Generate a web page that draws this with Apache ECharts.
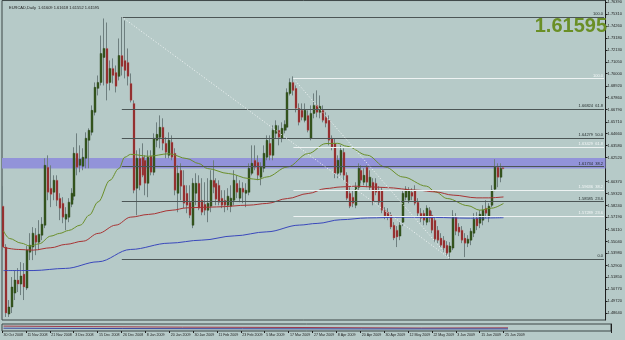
<!DOCTYPE html>
<html><head><meta charset="utf-8">
<script src="https://cdn.jsdelivr.net/npm/echarts@6/dist/echarts.min.js"></script>
<style>html,body{margin:0;padding:0;background:#b6cac8}#c{width:625px;height:340px}</style>
</head><body><div id="c"></div>
<script>
// ---- trading days (category axis) ----
const months = [
  ["Oct 2008",[30,31]],
  ["Nov 2008",[3,4,5,6,7,10,11,12,13,14,17,18,19,20,21,24,25,26,27,28]],
  ["Dec 2008",[1,2,3,4,5,8,9,10,11,12,15,16,17,18,19,22,23,24,26,29,30,31]],
  ["Jan 2009",[2,5,6,7,8,9,12,13,14,15,16,19,20,21,22,23,26,27,28,29,30]],
  ["Feb 2009",[2,3,4,5,6,9,10,11,12,13,16,17,18,19,20,23,24,25,26,27]],
  ["Mar 2009",[2,3,4,5,6,9,10,11,12,13,16,17,18,19,20,23,24,25,26,27,30,31]],
  ["Apr 2009",[1,2,3,6,7,8,9,10,13,14,15,16,17,20,21,22,23,24,27,28,29,30]],
  ["May 2009",[1,4,5,6,7,8,11,12,13,14,15,18,19,20,21,22,25,26,27,28,29]],
  ["Jun 2009",[1,2,3,4,5,8,9,10,11,12,15,16,17,18,19,22,23,24,25,26]]
];
const emptySlots = 34;

// ---- EURCAD daily OHLC ----
const opens = [1.5819,1.5454,1.4857,1.4920,1.5044,1.5160,1.5124,1.5213,1.5089,1.5409,
1.5454,1.5560,1.5498,1.5560,1.5649,1.6166,1.5979,1.5943,1.6050,1.5890,
1.5845,1.5703,1.5721,1.5836,1.5908,1.6290,1.6183,1.6175,1.6246,1.6406,
1.6477,1.6655,1.6869,1.6922,1.7145,1.7225,1.6922,1.7047,1.7011,1.6976,
1.7162,1.7118,1.7100,1.6913,1.6735,1.5979,1.6246,1.6255,1.6228,1.6023,
1.6264,1.6121,1.6406,1.6433,1.6522,1.6379,1.6272,1.6388,1.6290,1.5934,
1.6139,1.6005,1.5934,1.5854,1.5649,1.5934,1.6023,1.5872,1.5836,1.5783,
1.5819,1.6050,1.6023,1.6005,1.5890,1.5872,1.5827,1.5819,1.5872,1.6023,
1.5890,1.5979,1.5934,1.5943,1.6112,1.6228,1.6210,1.6077,1.6157,1.6255,
1.6379,1.6272,1.6468,1.6495,1.6424,1.6495,1.6522,1.6824,1.6922,1.6869,
1.6691,1.6673,1.6584,1.6628,1.6424,1.6646,1.6717,1.6655,1.6673,1.6611,
1.6584,1.6424,1.6379,1.6112,1.6121,1.6299,1.6094,1.5934,1.5899,1.5827,
1.5988,1.6139,1.6032,1.6166,1.5988,1.6032,1.6023,1.5961,1.5961,1.5783,
1.5765,1.5738,1.5649,1.5605,1.5552,1.5676,1.5899,1.5872,1.5943,1.5961,
1.5854,1.5756,1.5756,1.5676,1.5783,1.5738,1.5694,1.5605,1.5534,1.5516,
1.5471,1.5409,1.5445,1.5721,1.5632,1.5605,1.5534,1.5489,1.5516,1.5578,
1.5712,1.5667,1.5694,1.5801,1.5721,1.5827,1.5970,1.6166,1.6077,1.61609];
const highs = [1.5997,1.5480,1.4982,1.5187,1.5249,1.5267,1.5320,1.5311,1.5463,1.5578,
1.5632,1.5623,1.5694,1.5721,1.6246,1.6272,1.6183,1.6094,1.6094,1.5934,
1.5899,1.5810,1.5890,1.5979,1.6344,1.6468,1.6361,1.6335,1.6477,1.6513,
1.6717,1.6922,1.6984,1.7340,1.7492,1.7456,1.7118,1.7136,1.7073,1.7314,
1.7506,1.7474,1.7225,1.7002,1.6762,1.6317,1.6335,1.6379,1.6272,1.6317,
1.6317,1.6468,1.6566,1.6628,1.6602,1.6433,1.6477,1.6450,1.6335,1.6183,
1.6201,1.6139,1.6005,1.6005,1.6068,1.6112,1.6094,1.6068,1.6032,1.6068,
1.6139,1.6228,1.6068,1.6050,1.5961,1.5961,1.5979,1.6005,1.6139,1.6094,
1.6050,1.6032,1.6023,1.6201,1.6361,1.6361,1.6272,1.6210,1.6361,1.6450,
1.6450,1.6539,1.6584,1.6539,1.6566,1.6584,1.6869,1.6958,1.6976,1.6895,
1.6735,1.6735,1.6735,1.6673,1.6717,1.6824,1.6851,1.6806,1.6717,1.6655,
1.6628,1.6450,1.6424,1.6272,1.6361,1.6335,1.6121,1.5988,1.5961,1.6032,
1.6201,1.6183,1.6157,1.6183,1.6139,1.6068,1.6068,1.5997,1.5988,1.5810,
1.5801,1.5765,1.5676,1.5641,1.5676,1.5961,1.5997,1.5988,1.5979,1.6005,
1.5890,1.5801,1.5783,1.5827,1.5810,1.5774,1.5712,1.5641,1.5578,1.5552,
1.5507,1.5498,1.5783,1.5756,1.5667,1.5641,1.5578,1.5560,1.5623,1.5756,
1.5765,1.5783,1.5827,1.5872,1.5845,1.6005,1.6237,1.6201,1.6201,1.61618];
const lows = [1.5427,1.4831,1.4831,1.4866,1.4982,1.5053,1.5026,1.4982,1.5071,1.5338,
1.5338,1.5382,1.5427,1.5516,1.5623,1.5872,1.5810,1.5872,1.5819,1.5694,
1.5667,1.5605,1.5676,1.5810,1.5872,1.6094,1.6121,1.6139,1.6157,1.6157,
1.6450,1.6628,1.6806,1.6895,1.6895,1.6762,1.6851,1.6913,1.6833,1.6940,
1.6984,1.6958,1.6895,1.6744,1.5934,1.5738,1.5961,1.6077,1.5916,1.5899,
1.6094,1.6094,1.6344,1.6335,1.6317,1.6246,1.6246,1.6228,1.5916,1.5765,
1.5872,1.5801,1.5756,1.5712,1.5623,1.5827,1.5783,1.5738,1.5738,1.5676,
1.5765,1.5934,1.5827,1.5827,1.5801,1.5765,1.5783,1.5765,1.5827,1.5890,
1.5854,1.5845,1.5810,1.5916,1.6094,1.6139,1.6050,1.6005,1.6121,1.6228,
1.6228,1.6228,1.6424,1.6361,1.6388,1.6468,1.6495,1.6806,1.6806,1.6655,
1.6539,1.6584,1.6566,1.6477,1.6406,1.6602,1.6611,1.6602,1.6566,1.6522,
1.6361,1.6317,1.6068,1.6068,1.6094,1.6050,1.5872,1.5801,1.5810,1.5801,
1.5961,1.6023,1.6005,1.5988,1.5961,1.5827,1.5916,1.5827,1.5756,1.5703,
1.5694,1.5614,1.5516,1.5454,1.5516,1.5641,1.5872,1.5845,1.5872,1.5827,
1.5730,1.5676,1.5649,1.5649,1.5676,1.5578,1.5498,1.5489,1.5454,1.5409,
1.5374,1.5350,1.5427,1.5560,1.5552,1.5489,1.5365,1.5454,1.5471,1.5543,
1.5605,1.5623,1.5649,1.5712,1.5676,1.5810,1.5952,1.5988,1.6032,1.61552];
const closes = [1.5454,1.4866,1.4920,1.5098,1.5160,1.5124,1.5196,1.5098,1.5427,1.5471,
1.5578,1.5498,1.5569,1.5658,1.6183,1.5943,1.5925,1.6050,1.5872,1.5801,
1.5721,1.5747,1.5854,1.5934,1.6290,1.6166,1.6237,1.6255,1.6424,1.6495,
1.6673,1.6878,1.6922,1.7180,1.7225,1.6913,1.7047,1.6984,1.6887,1.7162,
1.7065,1.7029,1.6976,1.6762,1.5961,1.6246,1.6005,1.6094,1.6023,1.6255,
1.6121,1.6424,1.6459,1.6522,1.6379,1.6299,1.6406,1.6255,1.5961,1.6112,
1.5997,1.5845,1.5827,1.5738,1.6023,1.6023,1.5801,1.5765,1.5783,1.5845,
1.6050,1.5988,1.5881,1.5854,1.5827,1.5827,1.5908,1.5890,1.6050,1.5943,
1.5979,1.5943,1.5961,1.6157,1.6201,1.6166,1.6094,1.6166,1.6290,1.6406,
1.6272,1.6495,1.6539,1.6433,1.6513,1.6548,1.6833,1.6922,1.6851,1.6691,
1.6566,1.6611,1.6673,1.6495,1.6646,1.6717,1.6655,1.6709,1.6584,1.6557,
1.6406,1.6344,1.6112,1.6228,1.6317,1.6094,1.5890,1.5819,1.5845,1.5988,
1.6157,1.6050,1.6094,1.6032,1.6077,1.5854,1.5943,1.5854,1.5783,1.5730,
1.5721,1.5632,1.5534,1.5543,1.5649,1.5934,1.5970,1.5961,1.5908,1.5845,
1.5756,1.5712,1.5694,1.5801,1.5712,1.5605,1.5525,1.5516,1.5471,1.5445,
1.5400,1.5463,1.5730,1.5596,1.5587,1.5516,1.5489,1.5525,1.5596,1.5703,
1.5641,1.5747,1.5783,1.5756,1.5819,1.5961,1.6166,1.6077,1.6157,1.61595];

// ---- moving averages: [bar index, value] ----
const maFast = [[0,1.5598],[2,1.5531],[6,1.5489],[9,1.5463],[12,1.5483],[16,1.5552],[19,1.5576],[22,1.5602],[26,1.5650],[29,1.5739],[32,1.5857],[36,1.6050],[39,1.6154],[41,1.6255],[43,1.6281],[49,1.6264],[56,1.6286],[62,1.6243],[66,1.6199],[69,1.6154],[76,1.6110],[83,1.6065],[86,1.6056],[89,1.6079],[96,1.6168],[103,1.6288],[109,1.6377],[113,1.6379],[116,1.6353],[123,1.6273],[129,1.6168],[135,1.6079],[143,1.5997],[146,1.5946],[150,1.5887],[157,1.5823],[161,1.5783],[165,1.5801],[169,1.5843]];
const maMid = [[0,1.5451],[5,1.5433],[10,1.5427],[16,1.5448],[21,1.5478],[27,1.5507],[32,1.5576],[38,1.5650],[43,1.5721],[49,1.5745],[57,1.5783],[62,1.5804],[72,1.5812],[83,1.5828],[89,1.5843],[96,1.5887],[103,1.5932],[109,1.5976],[114,1.5990],[119,1.5997],[129,1.5985],[140,1.5961],[146,1.5946],[152,1.5917],[160,1.5893],[164,1.5893],[169,1.5901]];
const maSlow = [[0,1.5245],[10,1.5245],[21,1.5264],[32,1.5323],[43,1.5433],[56,1.5489],[67,1.5516],[78,1.5554],[89,1.5590],[100,1.5650],[106,1.5665],[114,1.5698],[123,1.5714],[135,1.5721],[146,1.5718],[157,1.5712],[169,1.5716]];

// ---- squeezed sub-window indicator (rough estimate, 0..1 of its height) ----
const subRed = [[0,0.70],[30,0.62],[60,0.55],[100,0.5],[140,0.42],[169,0.45]];
const subBlue = [[0,0.40],[40,0.35],[80,0.32],[120,0.3],[169,0.3]];

// ---- price axis labels ----
const yTicks = [1.48640,1.49720,1.50770,1.51850,1.52900,1.53980,1.55040,1.56110,1.57190,1.58240,1.59320,1.60370,1.62520,1.63580,1.64660,1.65710,1.66790,1.67860,1.68920,1.70000,1.71050,1.72130,1.73180,1.74260,1.75310,1.76390];

// ---- drawn objects ----
const fibLevels = [0, 23.6, 38.2, 61.8, 100];
const fibMain = {fromIdx: 40, toIdx: 151, high: 1.75063, low: 1.53495, extraLevels: [50]};
const fibSecond = {fromIdx: 98, toIdx: 151, high: 1.69570, low: 1.53495};
const band = [1.61545, 1.62490];
const lastPrice = 1.61595;
const title = "EURCAD,Daily  1.61609 1.61618 1.61552 1.61595";

// ---- build ----
const cats = [];
months.forEach(([m, days]) => days.forEach(d => cats.push(d + " " + m)));
const nBars = cats.length;
for (let k = 0; k < emptySlots; k++) cats.push("");
const lastCat = cats.length - 1;
const ohlc = opens.map((o, i) => [i, o, highs[i], lows[i], closes[i]]);

const BG = "#b6cac8", FONT = "'Liberation Sans', Arial, sans-serif";
function fibLines(f, levels, color, labelColor, skipZero) {
  const out = [];
  levels.forEach(lv => {
    if (skipZero && lv === 0) return;
    const p = f.low + (f.high - f.low) * lv / 100;
    const txt = (lv === 0 || lv === 100) ? lv.toFixed(1) : p.toFixed(5) + "  " + lv.toFixed(1);
    out.push([{coord: [f.fromIdx, p], lineStyle: {color, width: 1, type: "solid"},
      label: {show: true, position: "insideEndTop", formatter: txt, color: labelColor, fontSize: 4, fontFamily: FONT, distance: [1, 1]}},
      {coord: [lastCat, p]}]);
  });
  return out;
}
const mainLevels = fibLevels.concat(fibMain.extraLevels);
const markLines = []
  .concat(fibLines(fibMain, mainLevels, "#4c5656", "#1e2626", false))
  .concat(fibLines(fibSecond, fibLevels, "#eef3f3", "#f4f8f8", true))
  .concat([
    [{coord: [fibMain.fromIdx, fibMain.high], lineStyle: {color: "#f2f6f6", type: [1, 2], width: 1}, label: {show: false}}, {coord: [fibMain.toIdx, fibMain.low]}],
    [{coord: [fibSecond.fromIdx, fibSecond.high], lineStyle: {color: "#f2f6f6", type: [1, 2], width: 1}, label: {show: false}}, {coord: [fibSecond.toIdx, fibSecond.low]}]
  ]);

function renderCandle(params, api) {
  const i = api.value(0), o = api.value(1), h = api.value(2), l = api.value(3), c = api.value(4);
  const pO = api.coord([i, o]), pC = api.coord([i, c]);
  const yH = api.coord([i, h])[1], yL = api.coord([i, l])[1];
  const x0 = Math.round(pO[0] - 1);
  const top = Math.min(pO[1], pC[1]), bot = Math.max(pO[1], pC[1]);
  const bull = c >= o;
  return {type: "group", children: [
    {type: "line", shape: {x1: x0 + 0.5, y1: yH, x2: x0 + 0.5, y2: yL}, style: {stroke: "#6e7f7f", lineWidth: 1}},
    {type: "rect", shape: {x: x0, y: top, width: 2, height: Math.max(bot - top, 1)},
      style: {fill: bull ? "#36581f" : "#8c2323", stroke: bull ? "#2a4418" : "#b76868", lineWidth: 0.4}}
  ]};
}

const chart = echarts.init(document.getElementById("c"), null, {renderer: "canvas"});
const labelInterval = idx => idx % 8 === 0 && idx < nBars;
chart.setOption({
  animation: false,
  backgroundColor: BG,
  textStyle: {fontFamily: FONT},
  title: {text: title, left: 4, top: 1, textStyle: {fontSize: 4, fontWeight: "normal", color: "#1a1a1a", fontFamily: FONT}},
  graphic: [{type: "text", right: 18, top: 16, z: 50,
    style: {text: lastPrice.toFixed(5), fill: "#6a8f26", font: "bold 20px Arial, 'Liberation Sans', sans-serif"}}],
  grid: [
    {left: 2, right: 14, top: 0, height: 320, show: true, borderColor: "#3c4646", borderWidth: 1},
    {left: 2, right: 14, top: 324, height: 7, show: true, borderColor: "#3c4646", borderWidth: 1}
  ],
  xAxis: [
    {type: "category", data: cats, gridIndex: 0, boundaryGap: true,
      axisLine: {show: false}, axisTick: {show: false}, axisLabel: {show: false}, splitLine: {show: false}},
    {type: "category", data: cats, gridIndex: 1, boundaryGap: true, position: "bottom",
      axisLine: {show: false},
      axisTick: {show: true, interval: labelInterval, length: 2, lineStyle: {color: "#222"}},
      axisLabel: {show: true, interval: labelInterval, align: "left", fontSize: 3.6, color: "#1e1e1e", margin: 2,
        fontFamily: FONT, hideOverlap: false, showMinLabel: true},
      splitLine: {show: false}}
  ],
  yAxis: [
    {type: "value", gridIndex: 0, position: "right", min: 1.4804, max: 1.7652, scale: true,
      axisLine: {show: true, lineStyle: {color: "#1e1e1e"}},
      axisTick: {show: true, customValues: yTicks, length: 2, inside: false, lineStyle: {color: "#1e1e1e"}},
      axisLabel: {show: true, customValues: yTicks, formatter: v => v.toFixed(5), fontSize: 4, color: "#1e1e1e", margin: 2, fontFamily: FONT},
      splitLine: {show: false}},
    {type: "value", gridIndex: 1, position: "right", min: 0, max: 1,
      axisLine: {show: true, lineStyle: {color: "#1e1e1e"}}, axisTick: {show: false}, axisLabel: {show: false}, splitLine: {show: false}}
  ],
  series: [
    {name: "objects", type: "line", xAxisIndex: 0, yAxisIndex: 0, data: [], z: 1, silent: true,
      markArea: {silent: true, itemStyle: {color: "#9293d9", opacity: 1}, data: [[{yAxis: band[1]}, {yAxis: band[0]}]]},
      markLine: {silent: true, symbol: ["none", "none"], animation: false, data: markLines}},
    {name: "EURCAD", type: "custom", xAxisIndex: 0, yAxisIndex: 0, renderItem: renderCandle, data: ohlc,
      encode: {x: 0, y: [1, 2, 3, 4]}, z: 3, clip: true,
      markLine: {silent: true, symbol: ["none", "none"], lineStyle: {opacity: 0},
        label: {show: true, position: "end", formatter: lastPrice.toFixed(5), color: "#fff", backgroundColor: "#000", fontSize: 4, padding: [2, 2], fontFamily: FONT, distance: 1},
        data: [{yAxis: lastPrice}]}},
    {name: "MA fast", type: "line", data: maFast, smooth: 0.35, smoothMonotone: "x", showSymbol: false, z: 4, lineStyle: {color: "#6b8f2a", width: 1}},
    {name: "MA mid", type: "line", data: maMid, smooth: 0.35, smoothMonotone: "x", showSymbol: false, z: 4, lineStyle: {color: "#a83434", width: 1}},
    {name: "MA slow", type: "line", data: maSlow, smooth: 0.35, smoothMonotone: "x", showSymbol: false, z: 4, lineStyle: {color: "#3a48bc", width: 1}},
    {name: "sub red", type: "line", xAxisIndex: 1, yAxisIndex: 1, data: subRed, showSymbol: false, silent: true, lineStyle: {color: "#a03a4a", width: 1}},
    {name: "sub blue", type: "line", xAxisIndex: 1, yAxisIndex: 1, data: subBlue, showSymbol: false, silent: true, lineStyle: {color: "#3a48a0", width: 1}}
  ]
});
</script></body></html>
